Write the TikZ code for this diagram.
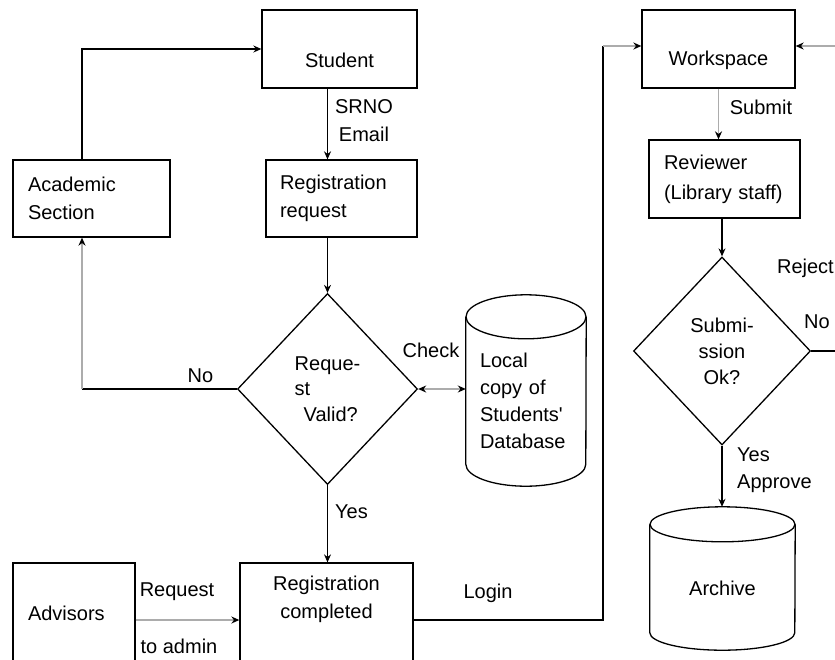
\documentclass[tikz,border=0pt]{standalone}
\usepackage{fontspec}
\setmainfont{Liberation Sans}
\usetikzlibrary{shapes.geometric, arrows.meta, calc}
\begin{document}
\begin{tikzpicture}[x=1pt, y=-1pt,
  font=\fontsize{20}{28}\selectfont,
  box/.style={draw, line width=1.3pt, inner sep=0pt},
  cyl/.style={line width=1.3pt},
  ln/.style={line width=1.2pt},
  arr/.style={ln, -{Stealth[length=8pt,width=7pt]}},
  garr/.style={ln, line width=1.4pt, draw=gray!65, -{Stealth[length=8pt,width=7pt,black]}},
  lbl/.style={inner sep=0pt}
]
\useasboundingbox[fill=white] (0,0) rectangle (835,659);

% boxes
\node[box, minimum width=155pt, minimum height=78pt,
      label={[yshift=-11pt]center:Student}] (student) at (339.5,49) {};
\node[box, minimum height=77pt, text width=127pt, inner xsep=15pt, align=left] (acad) at (91.5,198.5) {Academic\\Section};
\node[box, minimum height=77pt, text width=123pt, inner xsep=14pt, align=left] (regreq) at (341.5,198.5) {Registration\\request};
\node[box, minimum width=173pt, minimum height=102pt,
      label={[align=center, yshift=15pt]center:Registration\\completed}] (regcomp) at (326.5,614) {};
\node[box, minimum height=100pt, text width=92pt, inner xsep=15pt, align=left] (advisors) at (74,613) {Advisors};
\node[box, minimum width=153pt, minimum height=78pt,
      label={[yshift=-11pt]center:Workspace}] (workspace) at (718.5,49) {};
\node[box, minimum height=78pt, text width=121pt, inner xsep=15pt, align=left,
      font=\fontsize{20}{30}\selectfont] (reviewer) at (724.5,179) {Reviewer\\(Library staff)};

% decisions
\node[diamond, draw, line width=1.3pt, minimum width=180pt, minimum height=191pt, inner sep=0pt,
      align=left, font=\fontsize{20}{25.5}\selectfont] (valid) at (327.5,389) {Reque-\\st\\\hspace*{9pt}Valid?};
\node[diamond, draw, line width=1.3pt, minimum width=177pt, minimum height=188pt, inner sep=0pt,
      align=center, font=\fontsize{20}{26}\selectfont] (subok) at (722,351) {Submi-\\ssion\\Ok?};

% databases (cylinders)
\node[minimum width=120pt, minimum height=191pt, inner sep=0pt,
      label={[align=left, text width=92pt, yshift=-10pt, font=\fontsize{20}{27}\selectfont]center:Local\\copy of\\Students\textquotesingle\\Database}] (db) at (526,390.5) {};
\draw[cyl] ($(db.north)+(0,22)$) ellipse [x radius=60pt, y radius=22pt];
\draw[cyl] ($(db.north west)+(0,22)$) -- ($(db.south west)+(0,-22)$)
  arc[start angle=180, end angle=360, x radius=60pt, y radius=22pt]
  -- ($(db.north east)+(0,22)$);

\node[minimum width=145pt, minimum height=143pt, inner sep=0pt,
      label={[yshift=-9.5pt]center:Archive}] (archive) at (722.5,578.5) {};
\draw[cyl] ($(archive.north)+(0,17.5)$) ellipse [x radius=72.5pt, y radius=17.5pt];
\draw[cyl] ($(archive.north west)+(0,17.5)$) -- ($(archive.south west)+(0,-17.5)$)
  arc[start angle=180, end angle=360, x radius=72.5pt, y radius=17.5pt]
  -- ($(archive.north east)+(0,17.5)$);

% connectors
\draw[arr] ([xshift=-9.5pt]acad.north) |- (student.west);
\draw[arr] (valid.north |- student.south) -- (valid.north |- regreq.north);
\draw[arr] (valid.north |- regreq.south) -- (valid.north);
\coordinate (nocorner) at ([xshift=-9.5pt]acad.south |- valid.west);
\draw[ln] (valid.west) -- (nocorner);
\draw[garr] (nocorner) -- ([xshift=-9.5pt]acad.south);
\draw[ln, line width=1.4pt, draw=gray!65, {Stealth[length=8pt,width=7pt,black]}-{Stealth[length=8pt,width=7pt,black]}] (valid.east) -- (db.west |- valid.east);
\draw[arr] (valid.south) -- (valid.south |- regcomp.north);
\draw[garr, line width=2.2pt] ([yshift=-7pt]advisors.east) -- ([yshift=-7pt]advisors.east -| regcomp.west);
\coordinate (loginup) at (603,46);
\draw[ln] ($(regcomp.east)+(0,6)$) -| (loginup);
\draw[garr] (loginup) -- (loginup -| workspace.west);
\coordinate (rin) at (835,46);
\draw[garr] (rin) -- (rin -| workspace.east);
\draw[garr] (workspace.south) -- (workspace.south |- reviewer.north);
\draw[arr] (subok.north |- reviewer.south) -- (subok.north);
\coordinate (rout) at (835,351);
\draw[ln] (subok.east) -- (rout);
\draw[arr] (subok.south) -- (subok.south |- archive.north);

% connector labels
\node[lbl, align=center] (lsrno) at (364,121) {SRNO\\Email};
\node[lbl] (lsubmit) at (761,107) {Submit};
\node[lbl] (lno1) at (200.5,376) {No};
\node[lbl] (lcheck) at (431,350) {Check};
\node[lbl] (lyes1) at (351.5,512) {Yes};
\node[lbl] (lrequest) at (177,592) {Request};
\node[lbl] (ltoadmin) at (179,646) {to admin};
\node[lbl] (llogin) at (488,593) {Login};
\node[lbl, anchor=east] (lreject) at (834,268) {Reject};
\node[lbl] (lno2) at (817,322) {No};
\node[lbl, anchor=west, align=left, font=\fontsize{20}{27}\selectfont] (lyes2) at (737,470.5) {Yes\\Approve};
\end{tikzpicture}
\end{document}
